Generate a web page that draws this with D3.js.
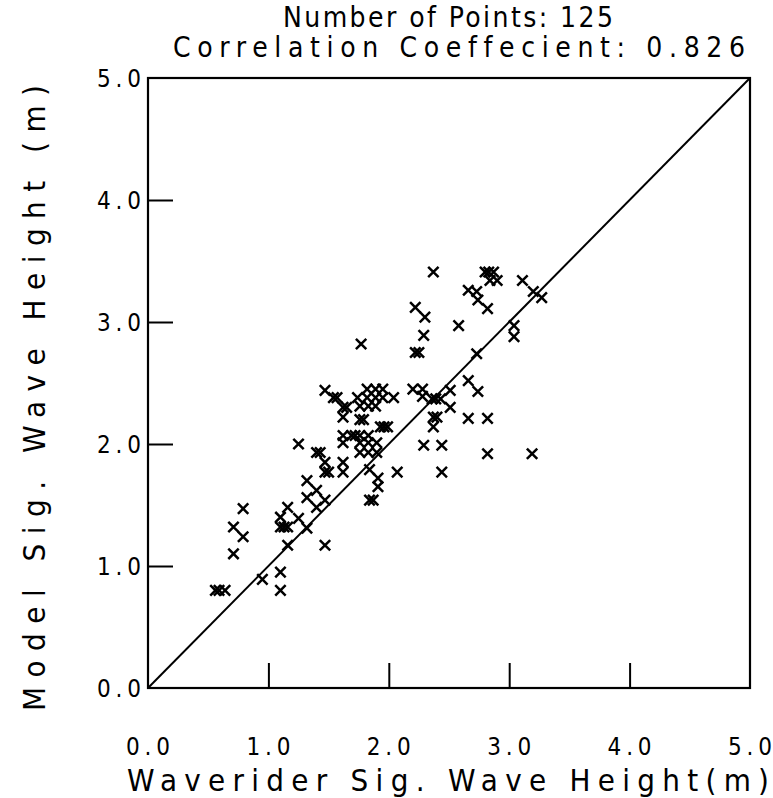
<!DOCTYPE html>
<html><head><meta charset="utf-8">
<script src="https://cdn.jsdelivr.net/npm/d3@7"></script>
<style>body{margin:0;background:#fff}svg{display:block}text{font-family:"DejaVu Sans Condensed","DejaVu Sans",sans-serif;fill:#000;font-variant-ligatures:none}</style>
</head><body>
<script>
// Waverider (x) vs Model (y) significant wave height, metres
const waverider = [0.56,0.59,0.64,0.95,1.10,1.10,0.71,0.71,0.79,0.79,1.16,1.47,1.10,1.10,1.13,1.16,1.16,1.25,1.32,1.32,1.40,1.47,1.40,1.32,
  1.25,1.40,1.43,1.47,1.47,1.50,1.62,1.62,1.84,1.91,1.91,1.84,1.87,2.07,2.29,2.44,2.82,3.19,2.44,
  1.47,1.54,1.57,1.62,1.65,1.62,1.76,1.79,1.62,1.69,1.72,1.76,1.83,1.62,1.76,1.83,1.90,1.76,1.83,1.90,1.93,1.96,1.99,
  1.82,1.89,1.95,1.74,1.82,1.89,1.95,2.04,1.76,1.83,1.89,2.20,2.28,2.28,2.36,2.39,2.43,2.51,2.51,2.37,2.40,2.37,2.66,2.74,2.66,2.82,
  1.77,2.22,2.25,2.29,2.22,2.30,2.37,2.58,2.66,2.73,2.74,2.82,2.80,2.83,2.87,2.84,2.90,3.11,3.20,3.27,3.04,3.04,2.73];
const model = [0.80,0.80,0.80,0.89,0.95,0.80,1.10,1.32,1.24,1.47,1.17,1.17,1.40,1.32,1.32,1.32,1.48,1.39,1.31,1.56,1.48,1.54,1.62,1.70,
  2.00,1.93,1.93,1.85,1.77,1.77,1.85,1.77,1.79,1.72,1.65,1.54,1.54,1.77,1.99,1.99,1.92,1.92,1.77,
  2.44,2.38,2.38,2.30,2.30,2.22,2.20,2.20,2.07,2.07,2.07,2.07,2.07,2.01,2.01,2.01,2.01,1.93,1.93,1.93,2.14,2.14,2.14,
  2.45,2.45,2.45,2.38,2.38,2.38,2.38,2.38,2.31,2.31,2.31,2.45,2.45,2.39,2.37,2.37,2.37,2.44,2.30,2.22,2.22,2.14,2.52,2.43,2.21,2.21,
  2.82,2.75,2.75,2.89,3.12,3.04,3.41,2.97,3.26,3.25,3.18,3.11,3.41,3.41,3.41,3.34,3.34,3.34,3.25,3.20,2.97,2.88,2.74];
const xTicks = [0,1,2,3,4,5];
const yTicks = [0,1,2,3,4,5];
const titleLines = ["Number of Points: 125","Correlation Coeffecient: 0.826"];
const xTitle = "Waverider Sig. Wave Height(m)";
const yTitle = "Model Sig. Wave Height (m)";

const W=773,H=798;
const m={l:148,r:750,t:78,b:688};
const svg=d3.select("body").append("svg").attr("width",W).attr("height",H);
const x=d3.scaleLinear().domain([0,5]).range([m.l,m.r]);
const y=d3.scaleLinear().domain([0,5]).range([m.b,m.t]);

// frame
svg.append("rect").attr("x",m.l).attr("y",m.t).attr("width",m.r-m.l).attr("height",m.b-m.t)
  .attr("fill","none").attr("stroke","#000").attr("stroke-width",2.2);

// inward ticks
const xAxis=d3.axisBottom(x).tickValues(xTicks.slice(1,5)).tickSize(-25).tickFormat("");
const gx=svg.append("g").attr("transform",`translate(0,${m.b})`).call(xAxis);
gx.select(".domain").remove();
gx.selectAll("line").attr("stroke","#000").attr("stroke-width",2);
const yAxis=d3.axisLeft(y).tickValues(yTicks.slice(1,5)).tickSize(-25).tickFormat("");
const gy=svg.append("g").attr("transform",`translate(${m.l},0)`).call(yAxis);
gy.select(".domain").remove();
gy.selectAll("line").attr("stroke","#000").attr("stroke-width",2);

// tick labels
svg.selectAll(".xl").data(xTicks).join("text").attr("class","xl")
  .attr("x",d=>x(d)).attr("y",755).attr("text-anchor","middle")
  .attr("font-size",24).attr("textLength",44).attr("lengthAdjust","spacing").text(d=>d.toFixed(1));
svg.selectAll(".yl").data(yTicks).join("text").attr("class","yl")
  .attr("x",141).attr("y",d=>y(d)+9).attr("text-anchor","end")
  .attr("font-size",24).attr("textLength",44).attr("lengthAdjust","spacing").text(d=>d.toFixed(1));

// 1:1 line
svg.append("line").attr("x1",x(0)).attr("y1",y(0)).attr("x2",x(5)).attr("y2",y(5))
  .attr("stroke","#000").attr("stroke-width",2);

// cross markers
const pts=waverider.map((v,i)=>[v,model[i]]);
const s=5.2;
svg.append("g").selectAll("path").data(pts).join("path")
  .attr("d",d=>{const cx=x(d[0]),cy=y(d[1]);return `M${cx-s},${cy-s}L${cx+s},${cy+s}M${cx-s},${cy+s}L${cx+s},${cy-s}`;})
  .attr("stroke","#000").attr("stroke-width",2.5).attr("fill","none");

// titles
svg.append("text").attr("x",448).attr("y",27).attr("text-anchor","middle").attr("font-size",28)
  .attr("textLength",330).attr("lengthAdjust","spacing").text(titleLines[0]);
svg.append("text").attr("x",459).attr("y",57).attr("text-anchor","middle").attr("font-size",28)
  .attr("textLength",572).attr("lengthAdjust","spacing").text(titleLines[1]);
svg.append("text").attr("x",448).attr("y",791).attr("text-anchor","middle").attr("font-size",31)
  .attr("textLength",642).attr("lengthAdjust","spacing").text(xTitle);
svg.append("text").attr("transform","translate(45,398) rotate(-90)").attr("text-anchor","middle").attr("font-size",31)
  .attr("textLength",626).attr("lengthAdjust","spacing").text(yTitle);
</script>
</body></html>
